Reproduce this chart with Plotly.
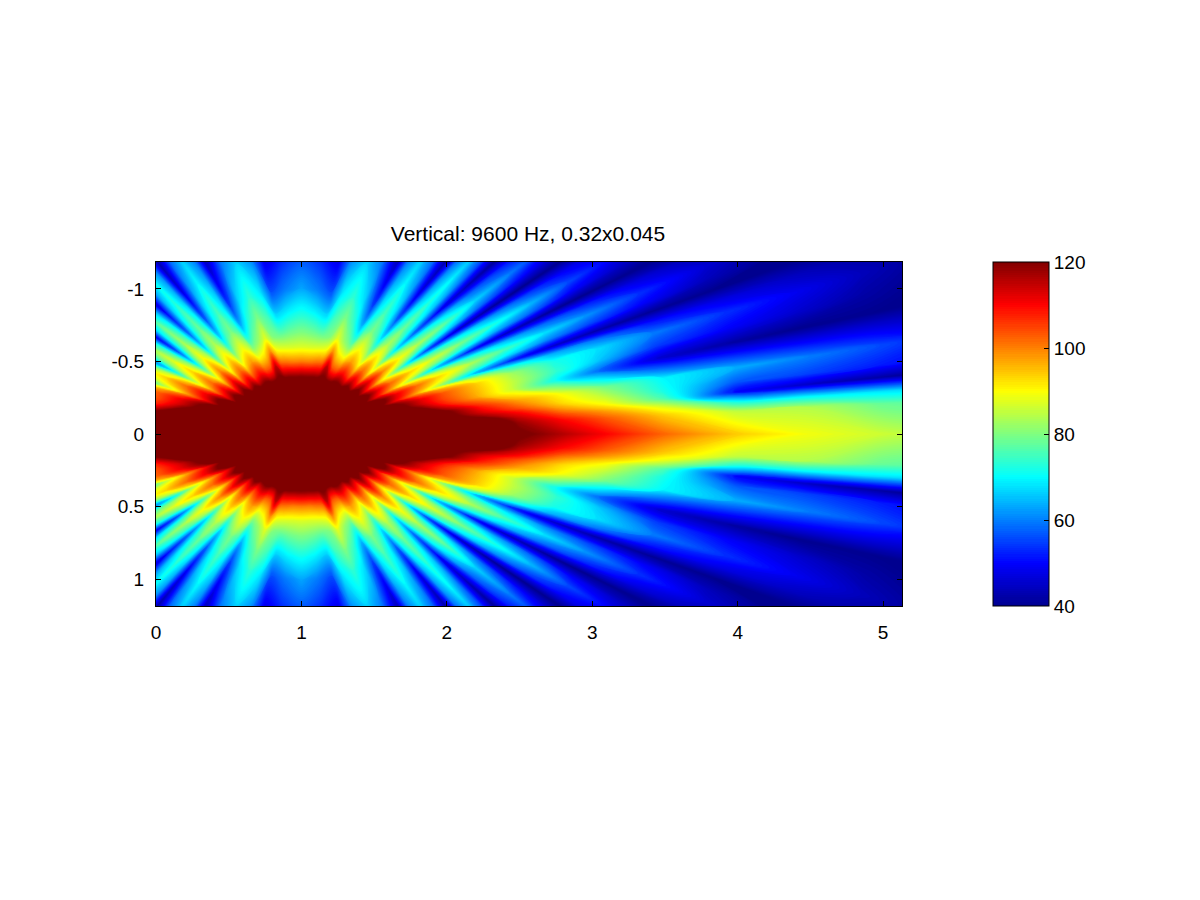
import math
import plotly.graph_objects as go

TITLE = "Vertical: 9600 Hz, 0.32x0.045"

# The pattern fans out in straight rays from the point (1, 0).
CENTER_X = 1.0
# ray directions in degrees, from the axis y = 0 up to the vertical (ridges, shoulders and nulls)
ray_deg = [0, 3, 4.2, 5.6, 6.8, 8.7, 12, 14, 16, 17.7, 19.3, 21, 22.6, 24.4, 26.2, 28, 29.7, 31.7, 33.7,
           35.7, 37.6, 39.7, 41.8, 43.9, 45.9, 48, 50.1, 52.7, 55.4, 58.2, 60.9, 65, 69.2, 73.6, 78.1, 84, 90]
# distance from that point
radius = [0, .3, .4, .5, .6, .7, .85, 1, 1.25, 1.5, 1.8, 2.1, 2.5, 3, 3.5, 4, 4.4]

# level: one row per ray_deg, one column per radius (above 120 = saturated)
levels = [
 [130,130,130,130,130,130,130,130,130,122,116,110,102,94,89,86,84],
 [130,130,130,130,130,130,130,130,130,118,110,103,94,85,84,78,76],
 [130,130,130,130,130,130,130,130,126,115,105,98,88,72,70,68,66],
 [130,130,130,130,130,130,130,126,118,110,98,90,76,50,45,42,40],
 [130,130,130,130,130,130,130,124,113,104,93,86,72,57,55,52,50],
 [130,130,130,130,130,130,130,122,108,98,90,80,70,64,60,56,52],
 [130,130,130,130,130,130,120,108,96,85,70,58,46,42,40,40,40],
 [130,130,130,130,130,125,114,105,95,85,74,66,55,50,46,42,40],
 [130,130,130,130,130,122,112,104,94,83,72,68,60,54,49,44,41],
 [130,130,130,130,126,118,106,98,86,74,64,60,52,48,45,42,40],
 [130,130,130,130,120,110,96,84,66,54,46,43,41,40,40,40,40],
 [130,130,130,130,122,112,100,91,78,69,61,56,50,44,40,40,40],
 [130,130,130,130,122,112,102,94,84,76,68,62,54,46,41,40,40],
 [130,130,130,126,116,106,95,86,74,66,59,54,48,43,40,40,40],
 [130,130,130,120,108,96,82,68,54,46,42,40,40,40,40,40,40],
 [130,130,130,122,110,100,90,82,72,64,58,50,45,41,40,40,40],
 [130,130,130,124,112,102,94,88,80,73,65,56,48,42,40,40,40],
 [130,130,130,121,108,97,86,78,70,63,56,50,45,41,40,40,40],
 [130,130,130,116,100,88,72,58,47,42,40,40,40,40,40,40,40],
 [130,130,130,118,106,95,84,75,67,59,52,47,43,40,40,40,40],
 [130,130,130,120,110,100,90,84,77,67,60,53,45,41,40,40,40],
 [130,130,129,116,105,95,84,76,68,59,53,48,43,40,40,40,40],
 [130,130,128,110,95,85,70,60,50,44,41,40,40,40,40,40,40],
 [130,130,128,112,100,91,80,73,66,60,54,49,44,40,40,40,40],
 [130,130,128,114,102,94,84,79,73,69,62,55,46,41,40,40,40],
 [130,130,126,111,99,90,79,72,65,61,55,50,44,40,40,40,40],
 [130,130,125,106,92,82,68,58,48,43,41,40,40,40,40,40,40],
 [130,130,125,108,96,87,76,70,63,58,52,48,43,40,40,40,40],
 [130,130,125,110,98,90,80,76,70,65,58,52,45,41,40,40,40],
 [130,130,124,108,95,86,75,69,63,58,52,48,43,40,40,40,40],
 [130,130,122,104,90,78,64,55,47,42,40,40,40,40,40,40,40],
 [130,130,122,104,92,82,74,68,61,55,50,46,42,40,40,40,40],
 [130,130,122,115,100,88,80,74,67,60,54,48,43,40,40,40,40],
 [130,130,121,104,90,80,75,69,61,54,49,45,41,40,40,40,40],
 [130,130,120,102,88,78,66,56,47,42,40,40,40,40,40,40,40],
 [130,130,119,100,87,79,69,60,52,47,43,40,40,40,40,40,40],
 [130,130,119,100,87,80,71,63,55,50,44,41,40,40,40,40,40],
]

jet = [[0, "rgb(0,0,143)"], [0.125, "rgb(0,0,255)"], [0.375, "rgb(0,255,255)"],
       [0.625, "rgb(255,255,0)"], [0.875, "rgb(255,0,0)"], [1, "rgb(128,0,0)"]]

# the picture mirrors about both x = 1 and y = 0: walk all the way round the point
n = len(ray_deg)
order = list(range(n)) + list(range(n - 2, -1, -1)) + list(range(1, n)) + list(range(n - 2, -1, -1))
angle = (ray_deg
         + [180 - v for v in ray_deg[-2::-1]]
         + [180 + v for v in ray_deg[1:]]
         + [360 - v for v in ray_deg[-2::-1]])
z_grid = [[levels[i][j] for i in order] for j in range(len(radius))]
x_grid = [[CENTER_X + r * math.cos(math.radians(a)) for a in angle] for r in radius]
y_grid = [[r * math.sin(math.radians(a)) for a in angle] for r in radius]

FONT = "Liberation Sans"
W, H = 1184, 884   # page body has an 8 px margin inside the 1200x900 window
OFF = 8


def fx(px):
    return (px - OFF) / W


def fy(px):
    return 1 - (px - OFF) / H


hidden = dict(smoothing=0, showgrid=False, showline=False, startline=False, endline=False,
              showticklabels="none", minorgridcount=0, gridwidth=0, title=dict(text=""))

fig = go.Figure()
fig.add_trace(go.Carpet(a=angle, b=radius, x=x_grid, y=y_grid, carpet="rays",
                        aaxis=hidden, baxis=hidden))
fig.add_trace(go.Contourcarpet(
    a=angle, b=radius, z=z_grid, carpet="rays",
    autocontour=False, contours=dict(start=40, end=120, size=0.5, coloring="fill", showlines=False),
    line=dict(width=0), zmin=40, zmax=120, colorscale=jet,
    colorbar=dict(
        xref="container", yref="container",
        x=fx(993), xanchor="left", xpad=0,
        y=fy(434), yanchor="middle", ypad=0,
        thickness=56, thicknessmode="pixels",
        len=344, lenmode="pixels",
        tickmode="array", tickvals=[40, 60, 80, 100, 120], ticks="inside", ticklen=5,
        tickprefix="\u2005",
        tickcolor="black", tickfont=dict(family=FONT, size=19, color="black"),
        outlinecolor="black", outlinewidth=1, borderwidth=0,
    ),
))

fig.update_layout(
    width=W, height=H, autosize=False,
    margin=dict(l=0, r=0, t=0, b=0, autoexpand=False),
    paper_bgcolor="white", plot_bgcolor="white",
    font=dict(family=FONT, size=19, color="black"),
    title=dict(text=TITLE, xref="container", yref="container",
               x=fx(528), xanchor="center", y=fy(234), yanchor="middle",
               font=dict(family=FONT, size=21, color="black")),
    xaxis=dict(domain=[fx(156), fx(902)], range=[0, 5.13],
               tickmode="array", tickvals=[0, 1, 2, 3, 4, 5], ticks="inside", ticklen=5,
               ticklabelstandoff=9,
               tickcolor="black", mirror="ticks", showline=True, linecolor="black",
               linewidth=1, showgrid=False, zeroline=False),
    yaxis=dict(domain=[fy(606), fy(262)], range=[1.185, -1.185],
               tickmode="array", tickvals=[-1, -0.5, 0, 0.5, 1], ticktext=["-1", "-0.5", "0", "0.5", "1"],
               ticks="inside", ticklen=5, tickcolor="black", mirror="ticks",
               ticklabelstandoff=7,
               showline=True, linecolor="black", linewidth=1,
               showgrid=False, zeroline=False),
)

fig.write_html("out.html")
